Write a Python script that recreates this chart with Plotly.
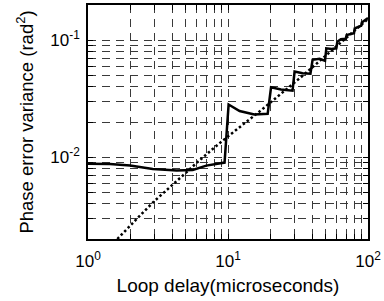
import plotly.graph_objects as go

# Measured (solid) phase error variance vs loop delay
delay_solid = [1, 1.43, 2.0, 2.9, 3.8, 4.3, 5.6, 7.0, 9.45, 10.1, 12.1, 15.4, 19.2,
               20.3, 23.9, 27.4, 28.9, 29.9, 34.1, 38.8, 40.2, 45, 49.3, 50.4, 55,
               59.4, 60.4, 64, 69.3, 70.4, 75, 79.4, 80.4, 85, 89.4, 90.4, 95, 100]
var_solid = [0.0088, 0.00877, 0.00848, 0.00794, 0.00779, 0.00769, 0.00779, 0.00848,
             0.0090, 0.0282, 0.0248, 0.0232, 0.0235, 0.0396, 0.0379, 0.0371, 0.037,
             0.054, 0.0523, 0.0518, 0.068, 0.0693, 0.0667, 0.0853, 0.0843, 0.0853,
             0.097, 0.102, 0.103, 0.111, 0.114, 0.115, 0.126, 0.13, 0.133, 0.142,
             0.148, 0.155]

# Theoretical (dotted) curve
delay_dotted = [1.62, 2.0, 2.5, 3.0, 3.8, 4.9, 6.0, 7.0, 8.0, 9.4, 11.4, 14.2, 17.5,
                21, 25, 28.5, 33, 39, 50, 65, 80, 100]
var_dotted = [0.0020, 0.00262, 0.00342, 0.00425, 0.00553, 0.0072, 0.0090, 0.0106,
              0.0121, 0.0142, 0.0172, 0.0210, 0.0256, 0.0305, 0.0362, 0.0415, 0.048,
              0.0572, 0.0740, 0.0975, 0.121, 0.152]

x_major_vals = [1, 10, 100]
x_major_text = ["10<sup>0</sup>", "10<sup>1</sup>", "10<sup>2</sup>"]
x_minor_vals = [2, 3, 4, 5, 6, 7, 8, 9, 20, 30, 40, 50, 60, 70, 80, 90]

y_major_vals = [0.01, 0.1]
y_major_text = ["10<sup>-2</sup>", "10<sup>-1</sup>"]
y_minor_vals = [0.002, 0.003, 0.004, 0.005, 0.006, 0.007, 0.008, 0.009,
                0.02, 0.03, 0.04, 0.05, 0.06, 0.07, 0.08, 0.09, 0.2]

FONT = "Liberation Sans, Arial, Helvetica, sans-serif"
GRID = "#3a3a3a"
GDASH = "8px,6px"

fig = go.Figure()
fig.add_trace(go.Scatter(x=delay_dotted, y=var_dotted, mode="lines",
                         line=dict(color="black", width=2.5, dash="2.5px,2.5px"),
                         showlegend=False))
fig.add_trace(go.Scatter(x=delay_solid, y=var_solid, mode="lines",
                         line=dict(color="black", width=2.5),
                         showlegend=False))

minor_common = dict(ticks="inside", ticklen=5, tickcolor="black", tickwidth=1,
                    showgrid=True, gridcolor=GRID, gridwidth=1, griddash=GDASH,
                    tickmode="array")

axis_common = dict(
    showgrid=True, gridcolor=GRID, gridwidth=1, griddash=GDASH,
    showline=True, linecolor="black", linewidth=1.5, mirror="ticks",
    ticks="inside", ticklen=5, tickcolor="black", tickwidth=1,
    zeroline=False, tickfont=dict(family=FONT, size=17, color="black"),
    tickmode="array",
)

fig.update_layout(
    width=384, height=301,
    margin=dict(l=88, r=15, t=3, b=62),
    paper_bgcolor="white", plot_bgcolor="white",
    font=dict(family=FONT, color="black"),
    xaxis=dict(type="log", range=[0, 2], tickvals=x_major_vals, ticktext=x_major_text,
               ticklabelstandoff=6,
               minor=dict(tickvals=x_minor_vals, **minor_common),
               title=dict(text="Loop delay(microseconds)",
                          font=dict(family=FONT, size=19), standoff=9),
               **axis_common),
    yaxis=dict(type="log", range=[-2.69897, -0.69897], tickvals=y_major_vals,
               ticktext=y_major_text, ticklabelstandoff=3,
               minor=dict(tickvals=y_minor_vals, **minor_common),
               title=dict(text="Phase error variance (rad<sup>2</sup>)",
                          font=dict(family=FONT, size=18.5), standoff=12),
               **axis_common),
)

fig.write_html("out.html", config={"displayModeBar": False},
               post_script="document.body.style.margin='0';")
